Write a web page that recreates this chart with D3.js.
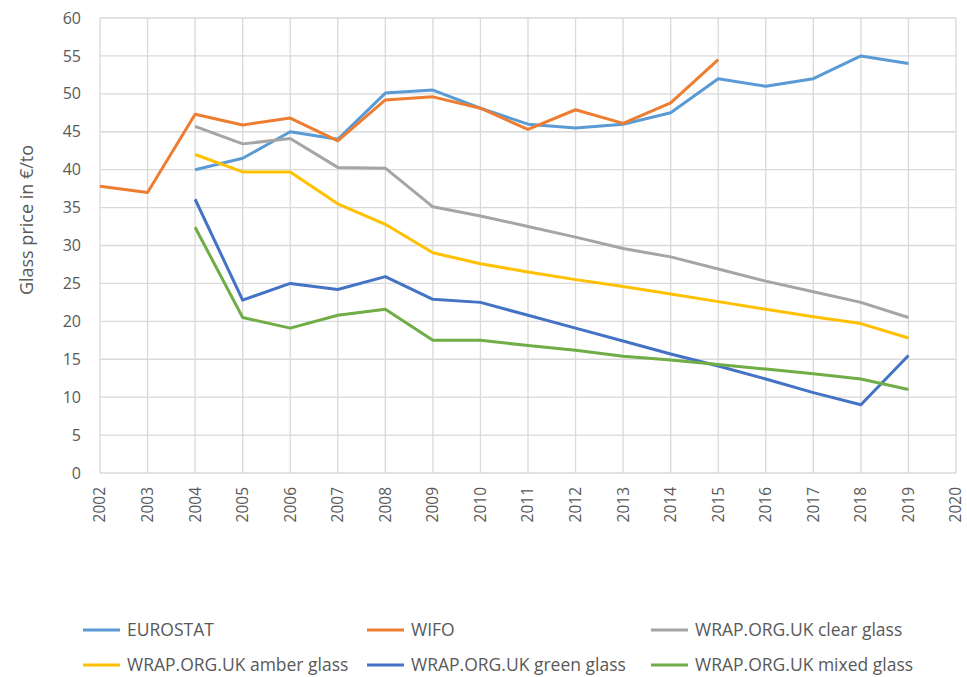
<!DOCTYPE html>
<html>
<head>
<meta charset="utf-8">
<script src="https://cdn.jsdelivr.net/npm/d3@7"></script>
<style>
  body { margin: 0; background: #fff; }
  text { fill: #595959; }
</style>
</head>
<body>
<script>
// data
const years = d3.range(2002, 2021);
const eurostat = [null, null, 40, 41.5, 45, 44, 50.1, 50.5, 48.1, 46, 45.5, 46, 47.5, 52, 51, 52, 55, 54];
const wifo = [37.8, 37, 47.3, 45.9, 46.8, 43.8, 49.2, 49.6, 48.1, 45.3, 47.9, 46.1, 48.8, 54.5];
const clearGlass = [null, null, 45.7, 43.4, 44.1, 40.3, 40.2, 35.1, 33.9, 32.5, 31.1, 29.6, 28.5, 26.9, 25.3, 23.9, 22.5, 20.5];
const amberGlass = [null, null, 42, 39.7, 39.7, 35.5, 32.8, 29.05, 27.6, 26.5, 25.5, 24.6, 23.6, 22.6, 21.6, 20.6, 19.7, 17.8];
const greenGlass = [null, null, 36.1, 22.8, 25, 24.2, 25.9, 22.9, 22.5, 20.8, 19.1, 17.4, 15.7, 14.1, 12.4, 10.6, 9.0, 15.5];
const mixedGlass = [null, null, 32.4, 20.5, 19.1, 20.8, 21.6, 17.5, 17.5, 16.8, 16.2, 15.4, 14.9, 14.3, 13.7, 13.1, 12.4, 11.0];
const yTicks = d3.range(0, 61, 5);

const series = [
  { name: "EUROSTAT", values: eurostat, color: "#5B9BD5" },
  { name: "WIFO", values: wifo, color: "#ED7D31" },
  { name: "WRAP.ORG.UK clear glass", values: clearGlass, color: "#A5A5A5" },
  { name: "WRAP.ORG.UK amber glass", values: amberGlass, color: "#FFC000" },
  { name: "WRAP.ORG.UK green glass", values: greenGlass, color: "#4472C4" },
  { name: "WRAP.ORG.UK mixed glass", values: mixedGlass, color: "#70AD47" }
];

const W = 967, H = 677;
const plotL = 100, plotR = 956, plotT = 18, plotB = 473;

const svg = d3.select("body").append("svg")
  .attr("width", W)
  .attr("height", H);

const x = d3.scaleLinear().domain([2002, 2020]).range([plotL, plotR]);
const y = d3.scaleLinear().domain([0, 60]).range([plotB, plotT]);

// grid
svg.append("g").selectAll("line")
  .data(yTicks)
  .enter().append("line")
  .attr("x1", plotL).attr("x2", plotR)
  .attr("y1", d => y(d)).attr("y2", d => y(d))
  .style("stroke", "#d9d9d9").style("stroke-width", 1.3);

svg.append("g").selectAll("line")
  .data(years)
  .enter().append("line")
  .attr("x1", d => x(d)).attr("x2", d => x(d))
  .attr("y1", plotT).attr("y2", plotB)
  .style("stroke", "#d9d9d9").style("stroke-width", 1.3);

// y tick labels
svg.append("g").selectAll("text")
  .data(yTicks)
  .enter().append("text")
  .attr("x", plotL - 19)
  .attr("y", d => y(d))
  .attr("dy", "0.35em")
  .attr("text-anchor", "end")
  .style("font-family", "'Open Sans', sans-serif")
  .style("font-size", "16px")
  .text(d => d);

// x tick labels, rotated
svg.append("g").selectAll("text")
  .data(years)
  .enter().append("text")
  .attr("transform", d => `translate(${x(d)},${plotB + 14}) rotate(-90)`)
  .attr("dy", "0.35em")
  .attr("text-anchor", "end")
  .style("font-family", "'Open Sans', sans-serif")
  .style("font-size", "15.5px")
  .text(d => d);

// axis title
svg.append("text")
  .attr("transform", "translate(27,220) rotate(-90)")
  .attr("dy", "0.35em")
  .attr("text-anchor", "middle")
  .style("font-family", "'Open Sans', sans-serif")
  .style("font-size", "18px")
  .text("Glass price in €/to");

// lines
const line = d3.line()
  .defined(d => d.v != null)
  .x(d => x(d.year))
  .y(d => y(d.v));

svg.append("g").selectAll("path")
  .data(series)
  .enter().append("path")
  .attr("d", s => line(s.values.map((v, i) => ({ year: years[i], v: v }))))
  .style("fill", "none")
  .style("stroke", s => s.color)
  .style("stroke-width", 3)
  .style("stroke-linejoin", "round");

// legend
const legX = [83, 367, 651];
const legY = [630, 665];
const leg = svg.append("g").selectAll("g")
  .data(series)
  .enter().append("g")
  .attr("transform", (s, i) => `translate(${legX[i % 3]},${legY[Math.floor(i / 3)]})`);

leg.append("line")
  .attr("x1", 0).attr("x2", 37)
  .style("stroke", s => s.color)
  .style("stroke-width", 3);

leg.append("text")
  .attr("x", 44)
  .attr("dy", "0.35em")
  .style("font-family", "'Open Sans', sans-serif")
  .style("font-size", "17.5px")
  .text(s => s.name);
</script>
</body>
</html>
